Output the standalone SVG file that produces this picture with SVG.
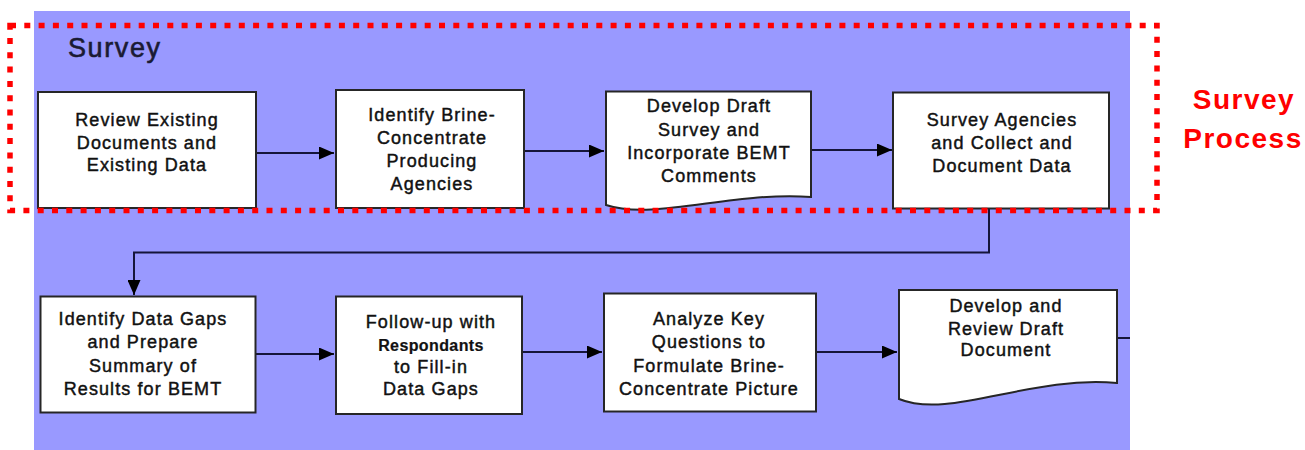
<svg xmlns="http://www.w3.org/2000/svg" width="1305" height="450" viewBox="0 0 1305 450">
<style>
.bg{fill:#9999ff}
.box{fill:#ffffff;stroke:#262626;stroke-width:2}
.t{font-family:"Liberation Sans",Arial,sans-serif;font-size:18px;letter-spacing:1.1px;fill:#111111;stroke:#111111;stroke-width:0.45px;text-anchor:middle}
.tb{font-weight:bold;font-size:16px;letter-spacing:0.4px;stroke-width:0.2px}
.conn{fill:none;stroke:#15153a;stroke-width:2}
.title{font-family:"Liberation Sans",Arial,sans-serif;font-size:27px;letter-spacing:1.6px;fill:#1a1a33;stroke:#1a1a33;stroke-width:0.6px}
.red{font-family:"Liberation Sans",Arial,sans-serif;font-size:28px;font-weight:bold;letter-spacing:1.5px;fill:#ff0000;text-anchor:middle}
.dash{fill:none;stroke:#ff0000;stroke-width:5.5;stroke-dasharray:6 8.3}
</style>
<defs>
<marker id="arr" markerUnits="userSpaceOnUse" markerWidth="15" markerHeight="13" refX="15" refY="6.5" orient="auto">
<path d="M0,0 L15,6.5 L0,13 Z" fill="#000"/>
</marker>
</defs>
<rect class="bg" x="34" y="11" width="1096" height="439"/>
<text class="title" x="68" y="57">Survey</text>

<g id="connectors">
<path class="conn" d="M256,153 H334" marker-end="url(#arr)"/>
<path class="conn" d="M524,151 H604" marker-end="url(#arr)"/>
<path class="conn" d="M811,150 H892" marker-end="url(#arr)"/>
<path class="conn" d="M989,208 V252.5 H134 V295" marker-end="url(#arr)"/>
<path class="conn" d="M256,354 H334" marker-end="url(#arr)"/>
<path class="conn" d="M522,352 H602" marker-end="url(#arr)"/>
<path class="conn" d="M816,352 H897" marker-end="url(#arr)"/>
<path class="conn" d="M1117,338 H1130"/>
</g>

<g id="n1">
<rect class="box" x="38" y="92" width="218" height="116"/>
<text class="t" x="147" y="126">Review Existing</text>
<text class="t" x="147" y="148.5">Documents and</text>
<text class="t" x="147" y="171">Existing Data</text>
</g>
<g id="n2">
<rect class="box" x="336" y="90" width="188" height="118"/>
<text class="t" x="432" y="120.7">Identify Brine-</text>
<text class="t" x="432" y="143.5">Concentrate</text>
<text class="t" x="432" y="166.5">Producing</text>
<text class="t" x="432" y="189.5">Agencies</text>
</g>
<g id="n3">
<path class="box" d="M606,91.5 H811 V197 C734,191 654,221 606,205 Z"/>
<text class="t" x="709" y="112.3">Develop Draft</text>
<text class="t" x="709" y="135.5">Survey and</text>
<text class="t" x="709" y="159">Incorporate BEMT</text>
<text class="t" x="709" y="182.3">Comments</text>
</g>
<g id="n4">
<rect class="box" x="893" y="92.5" width="216" height="116"/>
<text class="t" x="1002" y="126">Survey Agencies</text>
<text class="t" x="1002" y="149">and Collect and</text>
<text class="t" x="1002" y="172">Document Data</text>
</g>
<g id="n5">
<rect class="box" x="40.5" y="296.5" width="215" height="116"/>
<text class="t" x="143" y="325">Identify Data Gaps</text>
<text class="t" x="143" y="348.3">and Prepare</text>
<text class="t" x="143" y="371.7">Summary of</text>
<text class="t" x="143" y="395">Results for BEMT</text>
</g>
<g id="n6">
<rect class="box" x="336" y="296.5" width="186" height="117.5"/>
<text class="t" x="431" y="328.3">Follow-up with</text>
<text class="t tb" x="431" y="350.5">Respondants</text>
<text class="t" x="431" y="372.7">to Fill-in</text>
<text class="t" x="431" y="395">Data Gaps</text>
</g>
<g id="n7">
<rect class="box" x="604" y="293.5" width="212" height="118"/>
<text class="t" x="709" y="325">Analyze Key</text>
<text class="t" x="709" y="348.3">Questions to</text>
<text class="t" x="709" y="371.7">Formulate Brine-</text>
<text class="t" x="709" y="395">Concentrate Picture</text>
</g>
<g id="n8">
<path class="box" d="M899,290 H1117 V383 C1030,375 950,420 899,399 Z"/>
<text class="t" x="1006" y="311.5">Develop and</text>
<text class="t" x="1006" y="334.5">Review Draft</text>
<text class="t" x="1006" y="356">Document</text>
</g>

<g id="survey-process">
<rect class="dash" x="10" y="25.5" width="1147" height="185"/>
<text class="red" x="1244" y="109">Survey</text>
<text class="red" x="1243" y="148">Process</text>
</g>
</svg>
